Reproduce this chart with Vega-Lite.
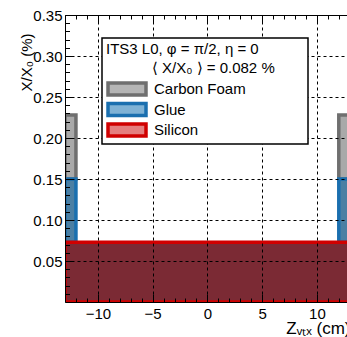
{
  "$schema": "https://vega.github.io/schema/vega-lite/v6.json",
  "width": 282,
  "height": 287,
  "autosize": {"type": "none"},
  "padding": {"left": 65, "top": 15, "right": 0, "bottom": 35},
  "background": "white",
  "data": {"values": [
    {"material": "Carbon Foam", "z0": -13, "z1": -12, "lo": 0.150, "hi": 0.228},
    {"material": "Carbon Foam", "z0": 12, "z1": 13, "lo": 0.150, "hi": 0.228},
    {"material": "Glue", "z0": -13, "z1": -12, "lo": 0.073, "hi": 0.150},
    {"material": "Glue", "z0": 12, "z1": 13, "lo": 0.073, "hi": 0.150},
    {"material": "Silicon", "z0": -13, "z1": 13, "lo": 0, "hi": 0.073}
  ]},
  "layer": [
    {
      "mark": {"type": "rect", "clip": true, "strokeWidth": 3.5},
      "encoding": {
        "x": {"field": "z0", "type": "quantitative",
          "scale": {"domain": [-13, 12.75], "nice": false, "zero": false},
          "axis": null},
        "x2": {"field": "z1"},
        "y": {"field": "hi", "type": "quantitative",
          "scale": {"domain": [0, 0.35], "nice": false, "zero": true},
          "axis": null},
        "y2": {"field": "lo"},
        "fill": {"field": "material", "type": "nominal",
          "scale": {"domain": ["Carbon Foam", "Glue", "Silicon"], "range": ["#a9a9a9", "#4b7fa3", "#7b2a34"]},
          "legend": null},
        "stroke": {"field": "material", "type": "nominal",
          "scale": {"domain": ["Carbon Foam", "Glue", "Silicon"], "range": ["#6f6f6f", "#1a6faf", "#d00000"]},
          "legend": null},
        "fillOpacity": {"field": "material", "type": "nominal",
          "scale": {"domain": ["Carbon Foam", "Glue", "Silicon"], "range": [1, 1, 0.85]},
          "legend": null}
      }
    },
    {
      "mark": {"type": "point", "opacity": 0},
      "encoding": {
        "x": {"field": "z0", "type": "quantitative",
          "scale": {"domain": [-13, 12.75], "nice": false, "zero": false},
          "axis": {"orient": "bottom", "values": [-10, -5, 0, 5, 10], "grid": true, "gridColor": "black", "gridDash": [3, 3], "gridWidth": 1, "gridOpacity": 1, "domain": true, "domainColor": "black", "domainWidth": 1, "ticks": true, "tickSize": -8, "tickColor": "black", "tickWidth": 1, "labelPadding": 12, "labelFontSize": 15, "labelFont": "Liberation Sans", "labelColor": "black", "labelFlush": false,
            "title": "Zᵥₜₓ (cm)", "titleFont": "Liberation Sans", "titleFontSize": 17, "titleFontWeight": "normal", "titleColor": "black", "titleX": 285, "titleY": 31, "titleAlign": "right", "titleBaseline": "alphabetic", "zindex": 1}},
        "y": {"field": "hi", "type": "quantitative",
          "scale": {"domain": [0, 0.35], "nice": false, "zero": true},
          "axis": {"orient": "left", "values": [0.05, 0.1, 0.15, 0.2, 0.25, 0.3, 0.35], "format": ".2f", "grid": true, "gridColor": "black", "gridDash": [3, 3], "gridWidth": 1, "gridOpacity": 1, "domain": true, "domainColor": "black", "domainWidth": 1, "ticks": true, "tickSize": -8, "tickColor": "black", "tickWidth": 1, "labelPadding": 11, "labelFontSize": 15, "labelFont": "Liberation Sans", "labelColor": "black",
            "title": "X/X₀ (%)", "titleFont": "Liberation Sans", "titleFontSize": 15, "titleFontWeight": "normal", "titleColor": "black", "titleAngle": -90, "titleX": -39, "titleY": 18, "titleAlign": "right", "titleBaseline": "middle", "zindex": 1}}
      }
    },
    {
      "mark": {"type": "point", "opacity": 0},
      "encoding": {
        "x": {"field": "z0", "type": "quantitative",
          "scale": {"domain": [-13, 12.75], "nice": false, "zero": false},
          "axis": {"orient": "bottom", "values": [-13, -12, -11, -10, -9, -8, -7, -6, -5, -4, -3, -2, -1, 0, 1, 2, 3, 4, 5, 6, 7, 8, 9, 10, 11, 12], "grid": false, "domain": false, "ticks": true, "tickSize": -4, "tickColor": "black", "tickWidth": 1, "labels": false, "title": null, "zindex": 1}},
        "y": {"field": "hi", "type": "quantitative",
          "scale": {"domain": [0, 0.35], "nice": false, "zero": true},
          "axis": {"orient": "left", "values": [0.01, 0.02, 0.03, 0.04, 0.05, 0.06, 0.07, 0.08, 0.09, 0.1, 0.11, 0.12, 0.13, 0.14, 0.15, 0.16, 0.17, 0.18, 0.19, 0.2, 0.21, 0.22, 0.23, 0.24, 0.25, 0.26, 0.27, 0.28, 0.29, 0.3, 0.31, 0.32, 0.33, 0.34], "grid": false, "domain": false, "ticks": true, "tickSize": -4.5, "tickColor": "black", "tickWidth": 1, "labels": false, "title": null, "zindex": 1}}
      }
    },
    {
      "mark": {"type": "point", "opacity": 0},
      "encoding": {
        "x": {"field": "z0", "type": "quantitative",
          "scale": {"domain": [-13, 12.75], "nice": false, "zero": false},
          "axis": {"orient": "top", "values": [-10, -5, 0, 5, 10], "grid": false, "domain": true, "domainColor": "black", "domainWidth": 1, "ticks": true, "tickSize": -8, "tickColor": "black", "tickWidth": 1, "labels": false, "title": null, "zindex": 1}}
      }
    },
    {
      "mark": {"type": "point", "opacity": 0},
      "encoding": {
        "x": {"field": "z0", "type": "quantitative",
          "scale": {"domain": [-13, 12.75], "nice": false, "zero": false},
          "axis": {"orient": "top", "values": [-13, -12, -11, -10, -9, -8, -7, -6, -5, -4, -3, -2, -1, 0, 1, 2, 3, 4, 5, 6, 7, 8, 9, 10, 11, 12], "grid": false, "domain": false, "ticks": true, "tickSize": -4, "tickColor": "black", "tickWidth": 1, "labels": false, "title": null, "zindex": 1}}
      }
    },
    {
      "transform": [{"filter": "false"}],
      "mark": {"type": "rect", "strokeWidth": 3.5},
      "encoding": {
        "x": {"field": "z0", "type": "quantitative",
          "scale": {"domain": [-13, 12.75], "nice": false, "zero": false},
          "axis": null},
        "x2": {"field": "z1"},
        "y": {"field": "hi", "type": "quantitative",
          "scale": {"domain": [0, 0.35], "nice": false, "zero": true},
          "axis": null},
        "y2": {"field": "lo"},
        "fill": {"field": "material", "type": "nominal",
          "scale": {"domain": ["Carbon Foam", "Glue", "Silicon"], "range": ["#b5b5b5", "#7fb2d5", "#e57f7f"]},
          "legend": {
            "title": ["ITS3 L0, φ = π/2, η = 0", "\u200b\u00a0\u00a0\u00a0\u00a0\u00a0\u00a0\u00a0\u00a0\u00a0\u00a0\u00a0⟨ X/X₀ ⟩ = 0.082 %\u00a0\u00a0\u00a0\u00a0\u00a0\u00a0\u00a0\u200b"],
            "orient": "none", "legendX": 37, "legendY": 23, "zindex": 2,
            "padding": 4, "titlePadding": 3, "titleFontSize": 15, "titleFontWeight": "normal", "titleFont": "Liberation Sans", "titleColor": "black", "titleLineHeight": 19, "titleAlign": "left", "titleLimit": 400,
            "labelFontSize": 15, "labelFont": "Liberation Sans", "labelColor": "black", "labelOffset": 6,
            "symbolType": "M-1,-0.32H1V0.32H-1Z", "symbolSize": 1444, "symbolStrokeWidth": 3.5, "symbolOpacity": 1,
            "clipHeight": 20, "rowPadding": 0.5,
            "fillColor": "white", "strokeColor": "black"
          }},
        "stroke": {"field": "material", "type": "nominal",
          "scale": {"domain": ["Carbon Foam", "Glue", "Silicon"], "range": ["#6f6f6f", "#1a6faf", "#d00000"]},
          "legend": {
            "title": ["ITS3 L0, φ = π/2, η = 0", "\u200b\u00a0\u00a0\u00a0\u00a0\u00a0\u00a0\u00a0\u00a0\u00a0\u00a0\u00a0⟨ X/X₀ ⟩ = 0.082 %\u00a0\u00a0\u00a0\u00a0\u00a0\u00a0\u00a0\u200b"],
            "orient": "none", "legendX": 37, "legendY": 23, "zindex": 2,
            "padding": 4, "titlePadding": 3, "titleFontSize": 15, "titleFontWeight": "normal", "titleFont": "Liberation Sans", "titleColor": "black", "titleLineHeight": 19, "titleAlign": "left", "titleLimit": 400,
            "labelFontSize": 15, "labelFont": "Liberation Sans", "labelColor": "black", "labelOffset": 6,
            "symbolType": "M-1,-0.32H1V0.32H-1Z", "symbolSize": 1444, "symbolStrokeWidth": 3.5, "symbolOpacity": 1,
            "clipHeight": 20, "rowPadding": 0.5,
            "fillColor": "white", "strokeColor": "black"
          }}
      }
    }
  ],
  "resolve": {
    "scale": {"fill": "independent", "stroke": "independent"},
    "axis": {"x": "independent", "y": "independent"}
  },
  "config": {
    "view": {"stroke": null},
    "font": "Liberation Sans",
    "legend": {"strokeWidth": 1.5}
  }
}
